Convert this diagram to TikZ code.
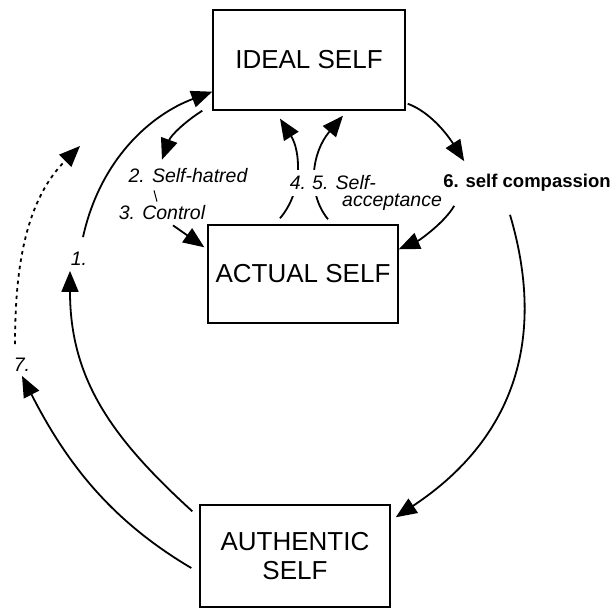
\documentclass[tikz,border=0pt]{standalone}
\usepackage{fontspec}
\setmainfont{Liberation Sans}
\usetikzlibrary{arrows.meta}
\begin{document}
\begin{tikzpicture}[x=1pt,y=-1pt]
\tikzstyle{self}=[draw,line width=1.4pt,inner sep=0pt,align=center,font=\fontsize{26}{29}\selectfont];
\tikzstyle{lab}=[inner sep=1pt,font=\fontsize{19.5}{22}\selectfont\itshape];
\tikzstyle{arr}=[line width=1.8pt,-{Triangle[length=21pt,width=17pt]}];
\useasboundingbox (0,0) rectangle (616,609);
\node[self,minimum width=192pt,minimum height=100pt] (ideal) at (309,60) {IDEAL SELF};
\node[self,minimum width=190pt,minimum height=98pt] (actual) at (303,274) {ACTUAL SELF};
\node[self,minimum width=190pt,minimum height=102pt] (authentic) at (295,556) {AUTHENTIC\\SELF};
\node[lab] (one) at (79,259) {1.};
\node[lab] (seven) at (22,365) {7.};
\node[lab] (hatred) at (188,176) {2. Self-hatred};
\node[lab] (control) at (162,213) {3. Control};
\node[inner sep=1pt,font=\bfseries\fontsize{18.5}{22}\selectfont] (comp) at (527,183) {6. self compassion};
\coordinate (dots) at (80,146);
% 1. and 7.
\draw[arr] ([shift={(-7,7)}]authentic.north west) .. controls (113,439) and (70,380) .. ([shift={(-9,4)}]one.south);
\draw[arr] ([shift={(4,-14)}]one.north) .. controls (100,160) and (150,115) .. ([shift={(0,-19)}]ideal.south west);
\draw[arr] ([shift={(-8,12)}]authentic.west) .. controls (110,520) and (66,462) .. ([shift={(0,3)}]seven.south);
\draw[arr,dash pattern=on 3.5pt off 4pt] ([shift={(-7,-13)}]seven.north) .. controls (15,263) and (27,199) .. (dots);
% 2. and 3.
\draw[arr] ([shift={(-10,0)}]ideal.south west) .. controls (186,121) and (171,135) .. ([shift={(-26,-8)}]hatred.north);
\draw[line width=1pt] ([shift={(-34,6)}]hatred.south) -- ([shift={(-5,-3)}]control.north);
\draw[arr] ([shift={(11,4)}]control.south) -- ([shift={(-3,23)}]actual.north west);
% 4. and 5.
\draw[arr] ([shift={(-23,-6)}]actual.north) .. controls (304,190) and (300,150) .. ([shift={(-29,8)}]ideal.south);
\draw[arr] ([shift={(25,-5)}]actual.north) .. controls (306,192) and (312,152) .. ([shift={(34,5)}]ideal.south);
% 6.
\draw[arr] ([shift={(2,-7)}]ideal.south east) .. controls (430,112) and (447,134) .. ([shift={(22,-12)}]comp.north west);
\draw[arr] ([shift={(12,13)}]comp.south west) .. controls (445,222) and (420,240) .. ([shift={(0,25)}]actual.north east);
\draw[arr] ([shift={(-17,22)}]comp.south) .. controls (550,350) and (505,445) .. ([shift={(5,13)}]authentic.north east);
\node[lab,fill=white,inner ysep=6pt] (four) at (298,183) {4.};
\node[lab,fill=white,inner ysep=6pt,anchor=west] (five) at (311,183) {5. Self-};
\node[lab,anchor=west] (accept) at (341,202) {acceptance};
\end{tikzpicture}
\end{document}
